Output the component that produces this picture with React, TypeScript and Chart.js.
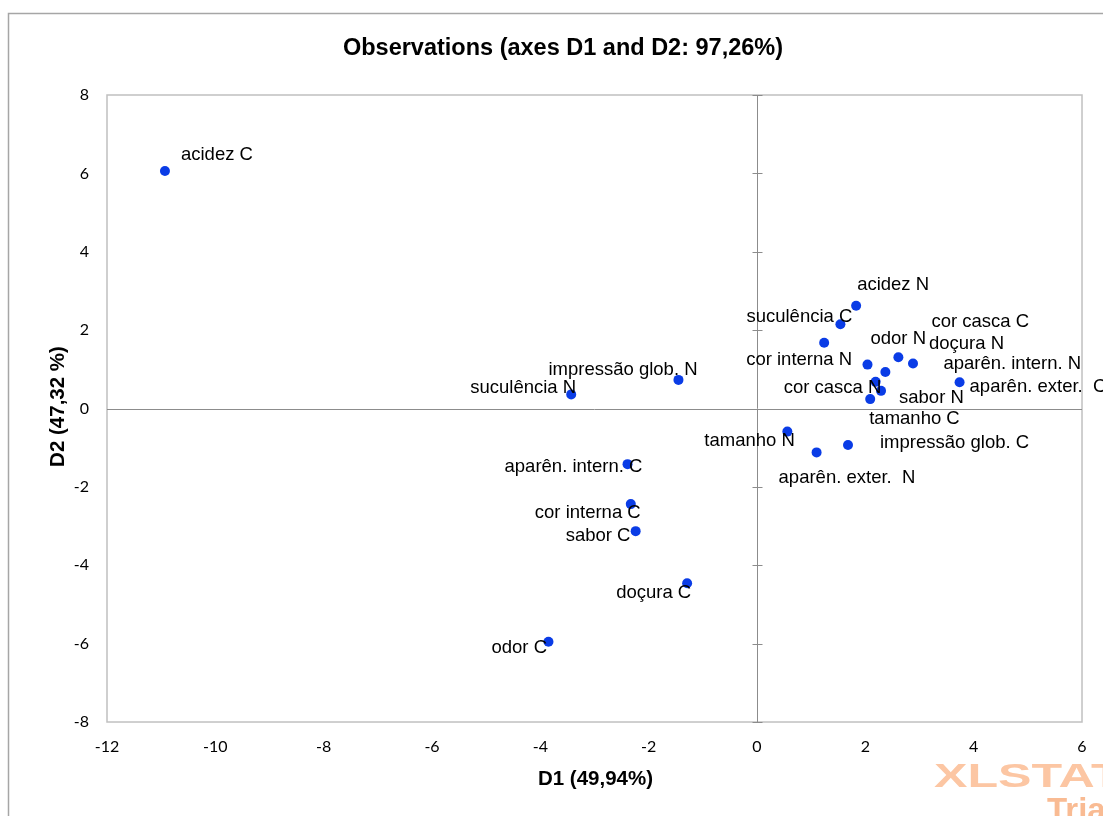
import React, { useEffect, useRef } from "react";
import { Chart, registerables } from "chart.js";

Chart.register(...registerables);

// ---- data ----
const observations = [
  "acidez C",
  "suculência N",
  "impressão glob. N",
  "aparên. intern. C",
  "cor interna C",
  "sabor C",
  "doçura C",
  "odor C",
  "tamanho N",
  "aparên. exter.  N",
  "impressão glob. C",
  "acidez N",
  "suculência C",
  "cor interna N",
  "odor N",
  "cor casca C",
  "doçura N",
  "aparên. intern. N",
  "cor casca N",
  "sabor N",
  "tamanho C",
  "aparên. exter.  C",
];
const d1Values = [
  -10.93, -3.43, -1.45, -2.39, -2.33, -2.24, -1.29, -3.85, 0.56, 1.1, 1.68,
  1.83, 1.54, 1.24, 2.04, 2.61, 2.88, 2.37, 2.19, 2.29, 2.09, 3.74,
];
const d2Values = [
  6.06, 0.36, 0.73, -1.42, -2.44, -3.13, -4.46, -5.95, -0.59, -1.12, -0.93,
  2.62, 2.15, 1.68, 1.12, 1.31, 1.15, 0.93, 0.68, 0.45, 0.24, 0.67,
];
const xTickValues = [-12, -10, -8, -6, -4, -2, 0, 2, 4, 6];
const yTickValues = [-8, -6, -4, -2, 0, 2, 4, 6, 8];

const chartTitle = "Observations (axes D1 and D2: 97,26%)";
const xTitle = "D1 (49,94%)";
const yTitle = "D2 (47,32 %)";

// ---- label placement (pixel offsets from each point, layout only) ----
const labelOffsets: Record<string, [number, number]> = {
  "acidez C": [16, -18],
  "suculência N": [-101, -8],
  "impressão glob. N": [-130, -12],
  "aparên. intern. C": [-123, 1],
  "cor interna C": [-96, 7],
  "sabor C": [-70, 3],
  "doçura C": [-71, 8],
  "odor C": [-57, 4],
  "tamanho N": [-83, 7],
  "aparên. exter.  N": [-38, 24],
  "impressão glob. C": [32, -4],
  "acidez N": [1, -23],
  "suculência C": [-94, -9],
  "cor interna N": [-78, 15],
  "odor N": [3, -28],
  "cor casca C": [33, -37],
  "doçura N": [16, -22],
  "aparên. intern. N": [58, -10],
  "cor casca N": [-92, 4],
  "sabor N": [18, 5],
  "tamanho C": [-1, 18],
  "aparên. exter.  C": [10, 3],
};
const LABEL_BASELINE_SHIFT = 2;

const overlay = {
  id: "overlay",
  beforeDraw(chart: any) {
    const ctx = chart.ctx;
    ctx.save();
    ctx.fillStyle = "#ffffff";
    ctx.fillRect(0, 0, chart.width, chart.height);
    ctx.strokeStyle = "#a6a6a6";
    ctx.lineWidth = 1.5;
    ctx.beginPath();
    ctx.moveTo(8.5, chart.height + 2);
    ctx.lineTo(8.5, 13.5);
    ctx.lineTo(chart.width + 2, 13.5);
    ctx.stroke();
    ctx.restore();
  },
  beforeDatasetsDraw(chart: any) {
    const ctx = chart.ctx;
    const a = chart.chartArea;
    const xs = chart.scales.x;
    const ys = chart.scales.y;
    ctx.save();
    ctx.strokeStyle = "#c0c0c0";
    ctx.lineWidth = 1.5;
    ctx.strokeRect(a.left, a.top, a.right - a.left, a.bottom - a.top);
    const x0 = Math.round(xs.getPixelForValue(0)) + 0.5;
    const y0 = Math.round(ys.getPixelForValue(0)) + 0.5;
    ctx.strokeStyle = "#8c8c8c";
    ctx.lineWidth = 1;
    ctx.beginPath();
    ctx.moveTo(x0, a.top);
    ctx.lineTo(x0, a.bottom);
    ctx.moveTo(a.left, y0);
    ctx.lineTo(a.right, y0);
    yTickValues.forEach((v) => {
      const py = Math.round(ys.getPixelForValue(v)) + 0.5;
      ctx.moveTo(x0 - 5, py);
      ctx.lineTo(x0 + 5, py);
    });
    ctx.stroke();
    ctx.restore();
  },
  afterDatasetsDraw(chart: any) {
    const ctx = chart.ctx;
    const meta = chart.getDatasetMeta(0);
    ctx.save();
    ctx.fillStyle = "#000000";
    ctx.font = '18.5px "Liberation Sans", Arial, sans-serif';
    ctx.textAlign = "left";
    ctx.textBaseline = "middle";
    observations.forEach((name, i) => {
      const el = meta.data[i];
      const off = labelOffsets[name] || [8, -10];
      ctx.fillText(name, el.x + off[0], el.y + off[1] + LABEL_BASELINE_SHIFT);
    });
    ctx.restore();
  },
  afterDraw(chart: any) {
    const ctx = chart.ctx;
    const a = chart.chartArea;
    ctx.save();
    ctx.fillStyle = "#000000";
    ctx.textAlign = "center";
    ctx.textBaseline = "middle";
    ctx.font = 'bold 23.5px "Liberation Sans", Arial, sans-serif';
    ctx.fillText(chartTitle, 563, 49);
    ctx.font = 'bold 20.5px "Liberation Sans", Arial, sans-serif';
    ctx.fillText(xTitle, (a.left + a.right) / 2 + 1, 779);
    ctx.save();
    ctx.translate(58, (a.top + a.bottom) / 2 - 2);
    ctx.rotate(-Math.PI / 2);
    ctx.fillText(yTitle, 0, 0);
    ctx.restore();
    // watermark
    ctx.textAlign = "left";
    ctx.textBaseline = "alphabetic";
    ctx.fillStyle = "#fcc6a3";
    ctx.save();
    ctx.translate(934, 787);
    ctx.scale(1.52, 1);
    ctx.font = 'bold 33px "Liberation Sans", Arial, sans-serif';
    ctx.fillText("XLSTAT", 0, 0);
    ctx.restore();
    ctx.fillStyle = "#f9bb93";
    ctx.font = 'bold 33px "Liberation Sans", Arial, sans-serif';
    ctx.fillText("Trial", 1047, 821);
    ctx.restore();
  },
};

export default function App() {
  const ref = useRef<HTMLCanvasElement | null>(null);
  useEffect(() => {
    if (!ref.current) return;
    const chart = new Chart(ref.current, {
      type: "scatter",
      data: {
        datasets: [
          {
            label: "Observations",
            data: d1Values.map((x, i) => ({ x, y: d2Values[i] })),
            backgroundColor: "#0a3ce6",
            borderWidth: 0,
            pointRadius: 5,
            pointHoverRadius: 5,
          },
        ],
      },
      options: {
        responsive: false,
        animation: false,
        events: [],
        layout: { padding: { top: 95, right: 21, left: 0, bottom: 0 } },
        plugins: {
          legend: { display: false },
          title: { display: false },
          tooltip: { enabled: false },
        },
        scales: {
          x: {
            type: "linear",
            min: -12,
            max: 6,
            afterFit: (s: any) => {
              s.height = 94;
            },
            afterBuildTicks: (s: any) => {
              s.ticks = xTickValues.map((v) => ({ value: v }));
            },
            grid: { display: false, drawTicks: false },
            border: { display: false },
            ticks: {
              padding: 15,
              color: "#000000",
              font: { family: "Lato", size: 16 },
              maxRotation: 0,
            },
          },
          y: {
            type: "linear",
            min: -8,
            max: 8,
            afterFit: (s: any) => {
              s.width = 107;
            },
            afterBuildTicks: (s: any) => {
              s.ticks = yTickValues.map((v) => ({ value: v }));
            },
            grid: { display: false, drawTicks: false },
            border: { display: false },
            ticks: {
              padding: 18,
              color: "#000000",
              font: { family: "Lato", size: 16 },
            },
          },
        },
      },
      plugins: [overlay],
    });
    return () => chart.destroy();
  }, []);
  return (
    <div style={{ position: "absolute", left: 0, top: 0, width: 1103, height: 816, overflow: "hidden", background: "#fff" }}>
      <canvas ref={ref} width={1103} height={816} style={{ display: "block" }} />
    </div>
  );
}
